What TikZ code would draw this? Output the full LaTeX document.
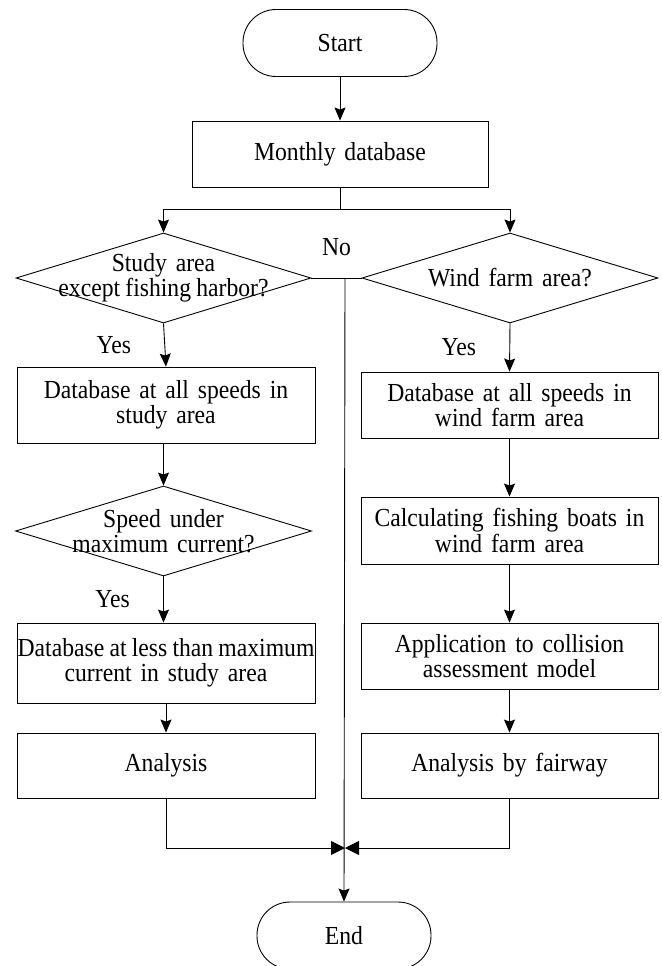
\documentclass[tikz,border=0pt]{standalone}
\usepackage{fontspec}
\setmainfont[FakeStretch=0.91,WordSpace=1.5]{Liberation Serif}
\usetikzlibrary{arrows.meta,shapes.geometric}

\begin{document}
\begin{tikzpicture}[x=1pt,y=-1pt,line width=0.9pt,
  every node/.style={font=\fontsize{26}{25.5}\selectfont},
  box/.style={draw,rectangle,inner sep=0pt,align=center,minimum width=297pt,minimum height=66pt},
  term/.style={draw,rectangle,rounded corners=33pt,minimum height=67pt},
  decision/.style={draw,diamond,inner sep=0pt,minimum width=295pt,minimum height=90pt},
  arr/.style={-{Stealth[length=13pt,width=11pt,inset=2pt]}},
  joinarr/.style={-{Triangle[length=14pt,width=14pt]}}]

% page size
\useasboundingbox (0,0) rectangle (661,966);

% start and end
\node[term,minimum width=194pt] (start) at (340,43) {Start};
\node[term,minimum width=174pt] (finish) at (344,935.5) {End};

% top box and decisions
\node[box,minimum width=296pt] (month) at (340,154) {Monthly database};
\node[decision,label={[align=center]center:Study area\\{\spaceskip=.2em except fishing harbor?}}] (study) at (163.5,278) {};
\node[decision,minimum width=296pt,label={center:Wind farm area?}] (wind) at (510,278) {};

% left column
\node[box,minimum width=298pt,minimum height=76pt] (allstudy) at (166,405) {Database at all speeds in\\study area};
\node[decision,minimum width=296pt,label={[align=center]center:Speed under\\maximum current?}] (speed) at (163.5,531) {};
\node[box,minimum width=298pt,minimum height=80pt] (lessmax) at (166,663) {{\spaceskip=.2em Database at less than maximum}\\current in study area};
\node[box,minimum width=298pt,minimum height=65pt] (analysis) at (166,765.5) {Analysis};

% right column
\node[box] (allwind) at (509.5,405) {Database at all speeds in\\wind farm area};
\node[box,minimum height=67pt] (boats) at (509.5,530.5) {Calculating fishing boats in\\wind farm area};
\node[box] (model) at (509.5,656) {Application to collision\\assessment model};
\node[box,minimum height=65pt] (fairway) at (509.5,765.5) {Analysis by fairway};

% helper points
\coordinate (nojoin) at (345,278);
\coordinate (merge) at (345,848);

% connectors
\draw[arr] (start) -- (month);
\draw (month.south) -- ++(0,22) coordinate (fork);
\draw[arr] (fork) -| (study.north);
\draw[arr] (fork) -| (wind.north);
\draw (study.east) -- node[above=18pt]{No} (wind.west);
\draw[arr] (nojoin) -- (finish.north);

\draw[arr] (study.south) -- node[left=30pt]{Yes} (allstudy.north);
\draw[arr] (allstudy.south -| speed.north) -- (speed.north);
\draw[arr] (speed.south) -- node[left=30pt]{Yes} (speed.south |- lessmax.north);
\draw[arr] (lessmax) -- (analysis);
\draw[joinarr] (analysis.south) |- (merge);

\draw[arr] (wind.south) -- node[left=30pt]{Yes} (allwind.north);
\draw[arr] (allwind) -- (boats);
\draw[arr] (boats) -- (model);
\draw[arr] (model) -- (fairway);
\draw[joinarr] (fairway.south) |- (merge);

\end{tikzpicture}
\end{document}
